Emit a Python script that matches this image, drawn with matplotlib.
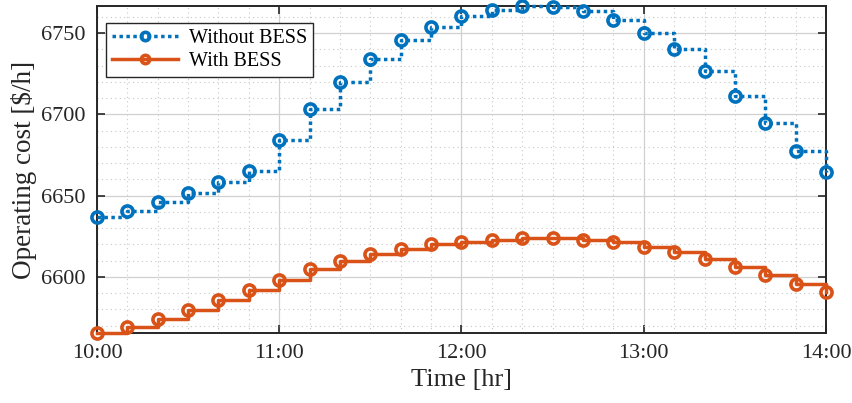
import numpy as np
import matplotlib
matplotlib.use("Agg")
import matplotlib.pyplot as plt
from matplotlib.ticker import MultipleLocator

# time steps every 10 minutes from 10:00 to 14:00 (in hours)
t_hours = 10 + np.arange(25) / 6.0

cost_without = [6637.1, 6640.8, 6645.9, 6651.5, 6658.2, 6665.0, 6684.1, 6703.6,
                6720.0, 6734.0, 6745.5, 6754.1, 6760.8, 6764.3, 6766.7, 6766.3,
                6763.6, 6758.4, 6750.4, 6740.1, 6727.0, 6711.6, 6694.8, 6677.7,
                6664.6]
cost_with = [6565.6, 6569.2, 6574.1, 6579.4, 6585.6, 6591.9, 6598.3, 6604.7,
             6609.8, 6614.1, 6617.4, 6620.1, 6621.8, 6622.9, 6623.8, 6623.8,
             6622.7, 6621.5, 6618.6, 6615.5, 6611.2, 6606.3, 6601.0, 6595.6,
             6590.7]

xtick_pos = [10, 11, 12, 13, 14]
xtick_labels = ["10:00", "11:00", "12:00", "13:00", "14:00"]
ytick_pos = [6600, 6650, 6700, 6750]

plt.rcParams["font.family"] = ["Liberation Serif", "DejaVu Serif"]
plt.rcParams["mathtext.fontset"] = "stix"

fig = plt.figure(figsize=(8.52, 4.03), dpi=100)
ax = fig.add_axes([0.1138, 0.174, 0.8557, 0.811])

blue = "#0072BD"
orange = "#D95319"

ax.plot(t_hours, cost_without, drawstyle="steps-post", linestyle=(0, (1, 1)),
        color=blue, linewidth=2.5, marker="o", markersize=8,
        markerfacecolor="none", markeredgewidth=2.6, label="Without BESS",
        zorder=3, clip_on=False)
ax.plot(t_hours, cost_with, drawstyle="steps-post", linestyle="-", color=orange,
        linewidth=2.5, marker="o", markersize=8, markerfacecolor="none",
        markeredgewidth=2.6, label="With BESS", zorder=3, clip_on=False)

ax.set_xlim(10, 14)
ax.set_ylim(min(cost_with), max(cost_without))
ax.set_xticks(xtick_pos)
ax.set_xticklabels(xtick_labels)
ax.set_yticks(ytick_pos)
ax.xaxis.set_minor_locator(MultipleLocator(1 / 6.0))
ax.yaxis.set_minor_locator(MultipleLocator(10))

ax.grid(which="major", color="#d0d0d0", linewidth=0.9, linestyle="-")
ax.grid(which="minor", color="#c8c8c8", linewidth=0.8, linestyle=(0, (1, 3)))
ax.set_axisbelow(True)

ax.tick_params(which="major", direction="in", length=6, width=1.2,
               top=True, right=True, labelsize=16, pad=8, colors="#262626")
ax.tick_params(which="minor", length=0, top=True, right=True)
for s in ax.spines.values():
    s.set_linewidth(1.4)
    s.set_color("#262626")

ax.set_xlabel("Time [hr]", fontsize=19, color="#262626", labelpad=4)
ax.set_ylabel("Operating cost [\\$/h]", fontsize=19.5, color="#262626",
              labelpad=3)

leg = ax.legend(loc="upper left", fontsize=14.5, frameon=True, fancybox=False,
                edgecolor="#262626", framealpha=1, borderpad=0.3,
                handlelength=3.3, labelspacing=0.2, handletextpad=0.5,
                markerscale=0.75, borderaxespad=0,
                bbox_to_anchor=(9 / 729, 1 - 17 / 327))
leg.get_frame().set_linewidth(1.0)

fig.savefig("out.png", dpi=100)
